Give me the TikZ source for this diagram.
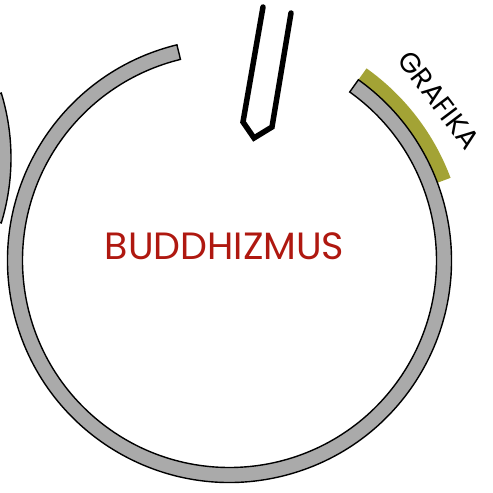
\documentclass[tikz,border=0pt]{standalone}
\usepackage{fontspec}
\setmainfont{Poppins}
\definecolor{bdgray}{HTML}{AAAAAA}
\definecolor{bdolive}{HTML}{A3A335}
\definecolor{bdred}{HTML}{AF1810}

\begin{document}
\begin{tikzpicture}[
    x=1pt, y=1pt,
    ring/.style={fill=bdgray, draw=black, line width=1.4pt},
    tag/.style={fill=bdolive},
    pen/.style={draw=black, line width=5.5pt, line cap=round},
    title/.style={text=bdred, font=\fontsize{38}{40}\selectfont},
    label/.style={text=black, font=\fontsize{28}{30}\selectfont}
  ]
    \useasboundingbox (0,0) rectangle (493,493);
    \coordinate (mid) at (229.5,232.5);
    \coordinate (prev) at (-211,335);
    % olive band on the right
    \fill[tag] ([shift={(mid)}]20.5:222) arc[start angle=20.5, end angle=54.5, radius=222]
        -- ([shift={(mid)}]54.5:236) arc[start angle=54.5, end angle=20.5, radius=236] -- cycle;
    % main ring with the gap at the top
    \draw[ring] ([shift={(mid)}]103.7:222) arc[start angle=103.7, end angle=414.5, radius=222]
        -- ([shift={(mid)}]414.5:207) arc[start angle=414.5, end angle=103.7, radius=207] -- cycle;
    % piece of the ring on the left
    \draw[ring] ([shift={(prev)}]-17:222) arc[start angle=-17, end angle=17, radius=222]
        -- ([shift={(prev)}]17:207) arc[start angle=17, end angle=-17, radius=207] -- cycle;
    % pen
    \draw[pen] (263,486) -- (243,371) -- (254,355) -- (272,366) -- (291,480);
    \node[title] (buddhizmus) at (224.5,246.5) {BUDDHIZMUS};
    \node[label, rotate=-53, inner sep=0pt] (grafika) at (439,393) {GRAFIKA};
  \end{tikzpicture}
\end{document}
